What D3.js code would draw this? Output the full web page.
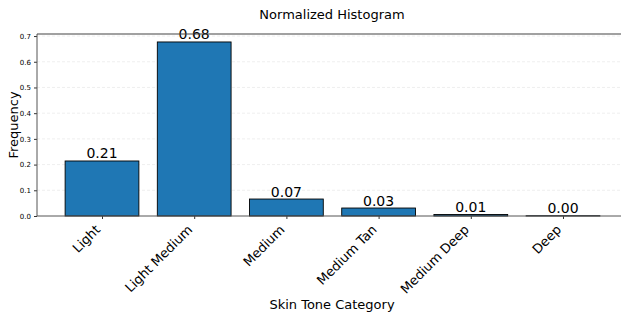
<!DOCTYPE html>
<html>
<head>
<meta charset="utf-8">
<script src="https://cdn.jsdelivr.net/npm/d3@7"></script>
<style>
  body { margin: 0; background: #fff; }
  text { font-family: "DejaVu Sans", sans-serif; fill: #000; }
</style>
</head>
<body>
<div id="chart"></div>
<script>
// data
const categories = ["Light", "Light Medium", "Medium", "Medium Tan", "Medium Deep", "Deep"];
const frequencies = [0.214, 0.677, 0.066, 0.031, 0.006, 0.001];
const valueLabels = ["0.21", "0.68", "0.07", "0.03", "0.01", "0.00"];
const yTicks = [0, 0.1, 0.2, 0.3, 0.4, 0.5, 0.6, 0.7];

const W = 621, H = 314;
const padL = 37, padT = 34, padB = 216, padR = 628;

const svg = d3.select("#chart").append("svg")
  .attr("width", W).attr("height", H);

// x positions: bar centres at integer slots, xlim roughly [-0.705, 5.705]
const xLin = d3.scaleLinear().domain([-0.705, 5.705]).range([padL, padR]);
const y = d3.scaleLinear().domain([0, 0.708]).range([padB, padT]);
const slot = xLin(1) - xLin(0);
const barW = slot * 0.8;

// grid
svg.append("g").selectAll("line").data(yTicks.slice(1)).enter().append("line")
  .attr("x1", padL).attr("x2", padR)
  .attr("y1", d => y(d)).attr("y2", d => y(d))
  .attr("stroke", "#ebebeb").attr("stroke-width", 0.8)
  .attr("stroke-dasharray", "3,2");

// bars
svg.append("g").selectAll("rect").data(frequencies).enter().append("rect")
  .attr("x", (d, i) => xLin(i) - barW / 2)
  .attr("y", d => y(d))
  .attr("width", barW)
  .attr("height", d => y(0) - y(d))
  .attr("fill", "#1f77b4")
  .attr("stroke", "#000")
  .attr("stroke-width", 0.9);

// value labels
svg.append("g").selectAll("text").data(frequencies).enter().append("text")
  .attr("x", (d, i) => xLin(i))
  .attr("y", d => y(d) - 2.5)
  .attr("text-anchor", "middle")
  .style("font-size", "14px")
  .text((d, i) => valueLabels[i]);

// y axis
const yAxis = d3.axisLeft(y).tickValues(yTicks).tickFormat(d3.format(".1f"))
  .tickSize(3).tickPadding(3);
const gy = svg.append("g").attr("transform", `translate(${padL},0)`).call(yAxis);
gy.select(".domain").remove();
gy.selectAll("text").style("font-size", "7px").style("font-family", "DejaVu Sans");
gy.selectAll("line").attr("stroke", "#333");

// x axis
const xAxis = d3.axisBottom(xLin).tickValues(d3.range(categories.length))
  .tickFormat(i => categories[i]).tickSize(3).tickPadding(2);
const gx = svg.append("g").attr("transform", `translate(0,${padB})`).call(xAxis);
gx.select(".domain").remove();
gx.selectAll("line").attr("stroke", "#333");
gx.selectAll("text")
  .style("font-size", "13px").style("font-family", "DejaVu Sans")
  .attr("text-anchor", "end")
  .attr("x", 0).attr("y", 0).attr("dy", 0)
  .attr("transform", "translate(-1.5,14.5) rotate(-45)");

// spines
svg.append("line").attr("x1", padL).attr("x2", padL).attr("y1", padT).attr("y2", padB)
  .attr("stroke", "#555").attr("stroke-width", 1);
svg.append("line").attr("x1", padL).attr("x2", padR).attr("y1", padB).attr("y2", padB)
  .attr("stroke", "#555").attr("stroke-width", 1);
svg.append("line").attr("x1", padL).attr("x2", padR).attr("y1", padT).attr("y2", padT)
  .attr("stroke", "#444").attr("stroke-width", 1.2);

// titles
svg.append("text").attr("x", 332).attr("y", 19).attr("text-anchor", "middle")
  .style("font-size", "13px").text("Normalized Histogram");
svg.append("text").attr("x", 332).attr("y", 309).attr("text-anchor", "middle")
  .style("font-size", "13px").text("Skin Tone Category");
svg.append("text").attr("transform", "translate(18,125) rotate(-90)")
  .attr("text-anchor", "middle").style("font-size", "13px").text("Frequency");
</script>
</body>
</html>
